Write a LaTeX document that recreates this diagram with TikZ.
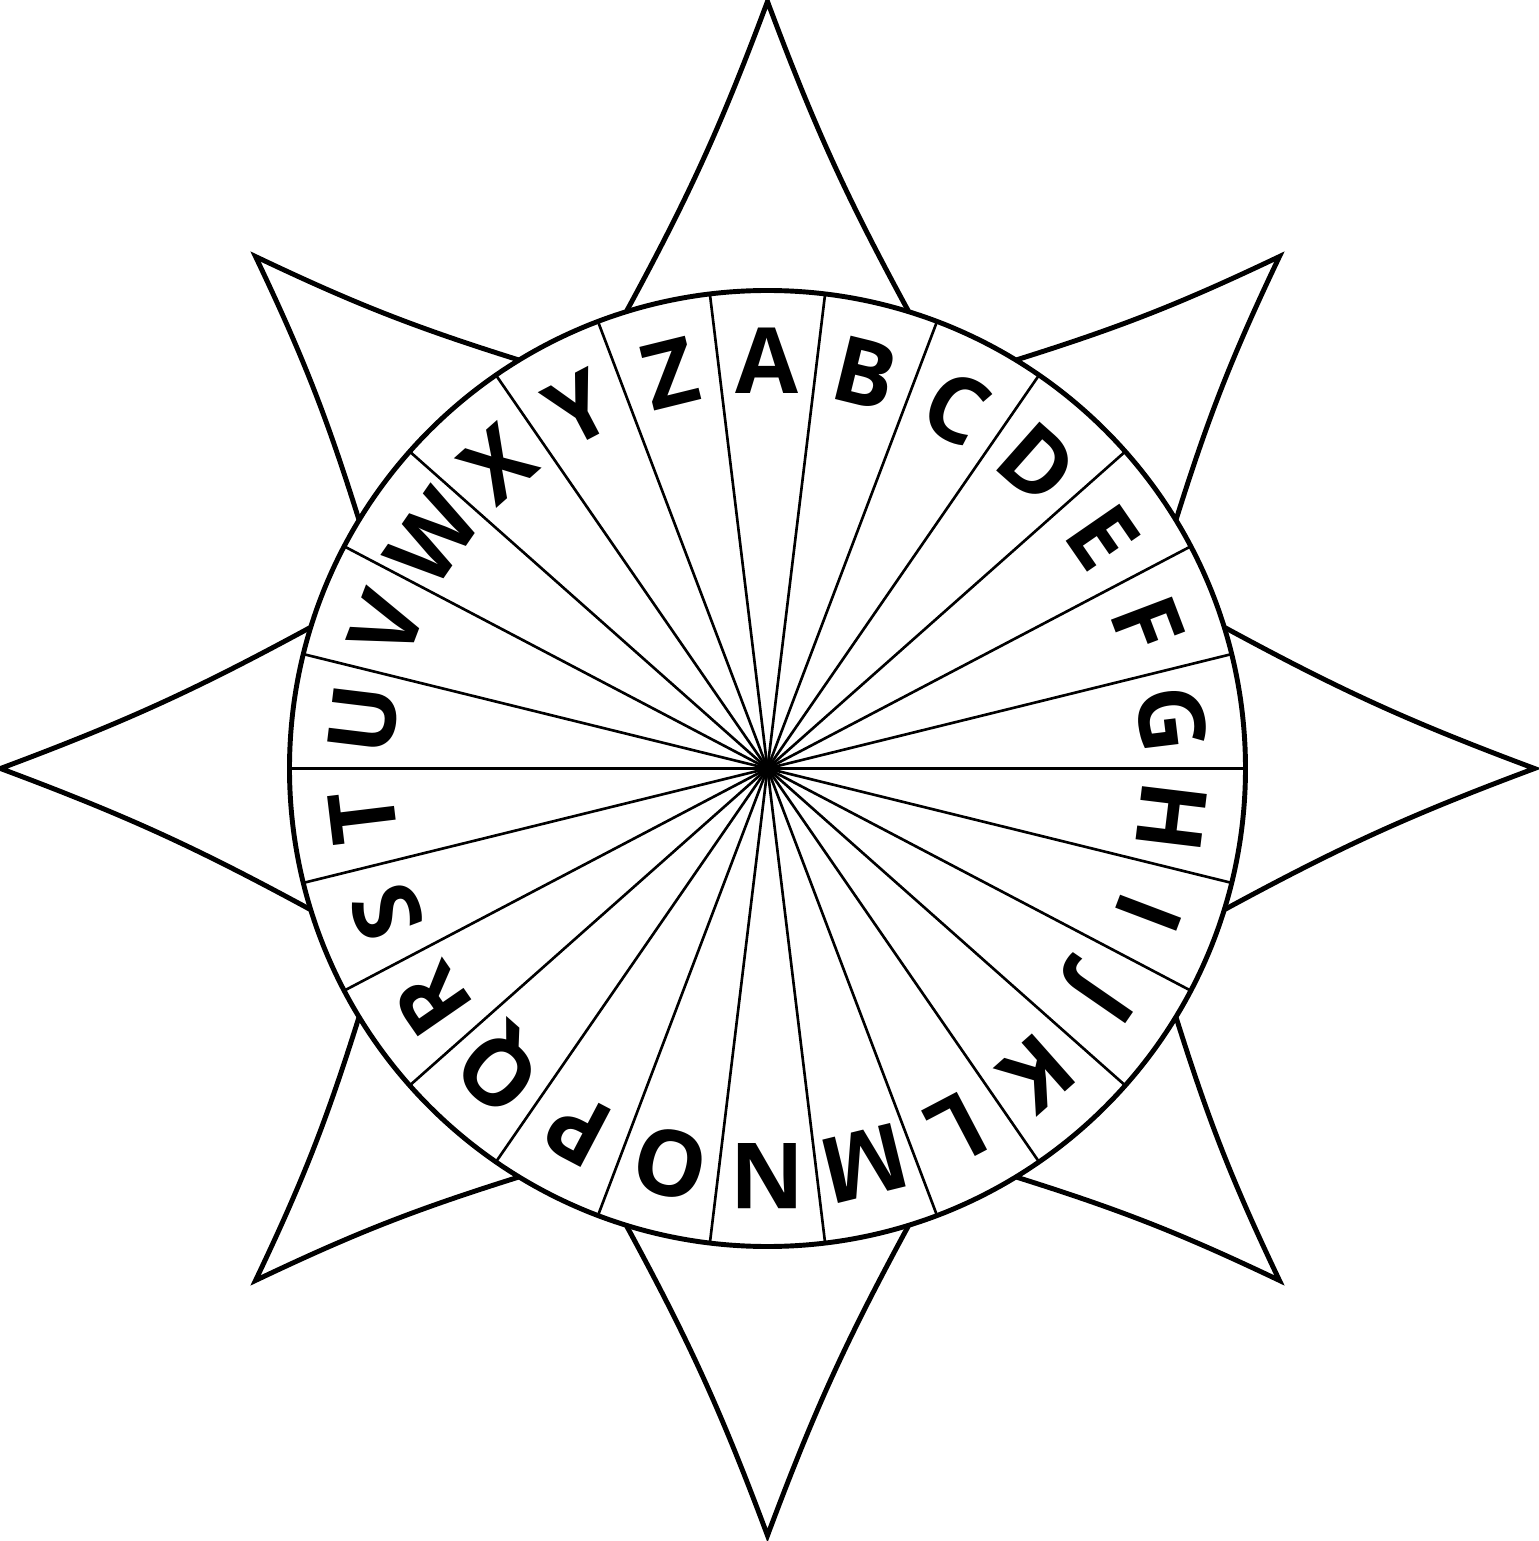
\documentclass[tikz,border=0pt]{standalone}
\usepackage{fontspec}
\setmainfont{Open Sans}
\usepackage{tikz}
\usetikzlibrary{positioning}

\begin{document}
\begin{tikzpicture}[
    rim/.style={line width=1.4pt, fill=white},
    spoke/.style={line width=0.75pt},
    ray/.style={line width=1.4pt, line join=miter},
    letter/.style={font=\fontsize{26}{30}\selectfont\bfseries, inner sep=0pt, text height=0.65cm, text depth=0pt, anchor=center},
]
\useasboundingbox (-7.675,-7.725) rectangle (7.715,7.685);
\coordinate (hub) at (0,0);

% star points
\foreach \a in {0,90,180,270}
  \draw[ray] (\a+17.2:4.78) to[bend right=4] (\a:7.67) to[bend right=4] (\a-17.2:4.78);
\foreach \a in {45,135,225,315}
  \draw[ray] (\a+13.7:4.78) to[bend right=4] (\a:7.24) to[bend right=4] (\a-13.7:4.78);

% disc
\draw[rim] (hub) circle (4.78);
\foreach \k in {0,...,25}
  \draw[spoke] (hub) -- (\k*360/26:4.78);
\foreach \l [count=\i from 0] in {A,...,Z}
  \node[letter, rotate=-\i*360/26] (let\l) at ({90-\i*360/26}:4.07) {\l};
\end{tikzpicture}
\end{document}
